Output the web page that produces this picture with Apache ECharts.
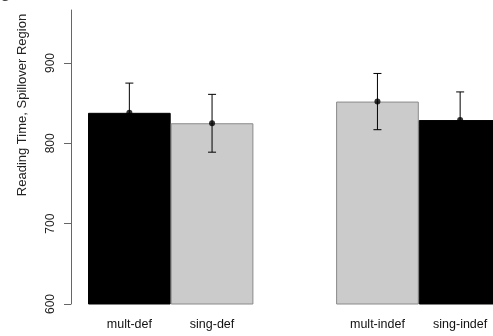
<!DOCTYPE html>
<html>
<head>
<meta charset="utf-8">
<script src="https://cdn.jsdelivr.net/npm/echarts@6/dist/echarts.min.js"></script>
<style>html,body{margin:0;padding:0;background:#fff;}#c{width:493px;height:336px;}</style>
</head>
<body>
<div id="c"></div>
<script>
const categories = ['mult-def', 'sing-def', 'mult-indef', 'sing-indef'];
const positions = [0, 1, 3, 4];
const means = [838, 825, 852, 829];
const errors = [37, 36, 35, 35];
const barColors = ['#000000', '#cbcbcb', '#cbcbcb', '#000000'];
const yTicks = [600, 700, 800, 900];

const chart = echarts.init(document.getElementById('c'), null, {renderer: 'canvas'});
const FONT = 'Liberation Sans';
const SLOT = 82.7;

const barData = means.map((v, i) => ({
  value: [positions[i], v],
  itemStyle: {color: barColors[i], borderColor: barColors[i] === '#000000' ? '#000' : '#8a8a8a', borderWidth: 1}
}));
const errData = means.map((v, i) => [positions[i], v - errors[i], v + errors[i]]);
const dotData = means.map((v, i) => [positions[i], v]);

chart.setOption({
  animation: false,
  grid: {left: 88, right: 0, top: 10, bottom: 32, containLabel: false},
  xAxis: {
    type: 'value', min: -0.5, max: -0.5 + 405 / SLOT,
    splitLine: {show: false},
    axisLine: {show: false, onZero: false}, axisTick: {show: false},
    axisLabel: {
      fontFamily: FONT, fontSize: 12.5, color: '#111', margin: 14,
      customValues: positions,
      formatter: v => { const k = positions.indexOf(Math.round(v)); return k >= 0 ? categories[k] : ''; }
    }
  },
  yAxis: {
    type: 'value', min: 600, max: 966, interval: 100, offset: 17,
    splitLine: {show: false},
    axisLine: {show: true, onZero: false, lineStyle: {color: '#666', width: 1}},
    axisTick: {show: true, length: 7, lineStyle: {color: '#666'}},
    axisLabel: {
      rotate: 90, fontFamily: FONT, fontSize: 12, color: '#222', margin: 14,
      showMaxLabel: false,
      formatter: v => yTicks.includes(v) ? String(v) : ''
    }
  },
  graphic: [
    {type: 'text', left: 0, top: -10, style: {text: 'C', font: '14px ' + FONT, fill: '#444'}},
    {type: 'text', x: 22, y: 105, rotation: Math.PI / 2,
     style: {text: 'Reading Time, Spillover Region', font: '13px ' + FONT, fill: '#222', align: 'center', verticalAlign: 'middle'}}
  ],
  series: [
    {type: 'bar', data: barData, barWidth: SLOT, z: 1},
    {
      type: 'custom', data: errData, z: 3,
      renderItem: (params, api) => {
        const x = api.value(0);
        const lo = api.coord([x, api.value(1)]);
        const hi = api.coord([x, api.value(2)]);
        const cw = 4;
        const st = {stroke: '#000', lineWidth: 1};
        return {type: 'group', children: [
          {type: 'line', shape: {x1: lo[0], y1: lo[1], x2: hi[0], y2: hi[1]}, style: st},
          {type: 'line', shape: {x1: lo[0] - cw, y1: lo[1], x2: lo[0] + cw, y2: lo[1]}, style: st},
          {type: 'line', shape: {x1: hi[0] - cw, y1: hi[1], x2: hi[0] + cw, y2: hi[1]}, style: st}
        ]};
      }
    },
    {type: 'scatter', data: dotData, symbolSize: 6, itemStyle: {color: '#000'}, z: 4}
  ]
});
</script>
</body>
</html>
